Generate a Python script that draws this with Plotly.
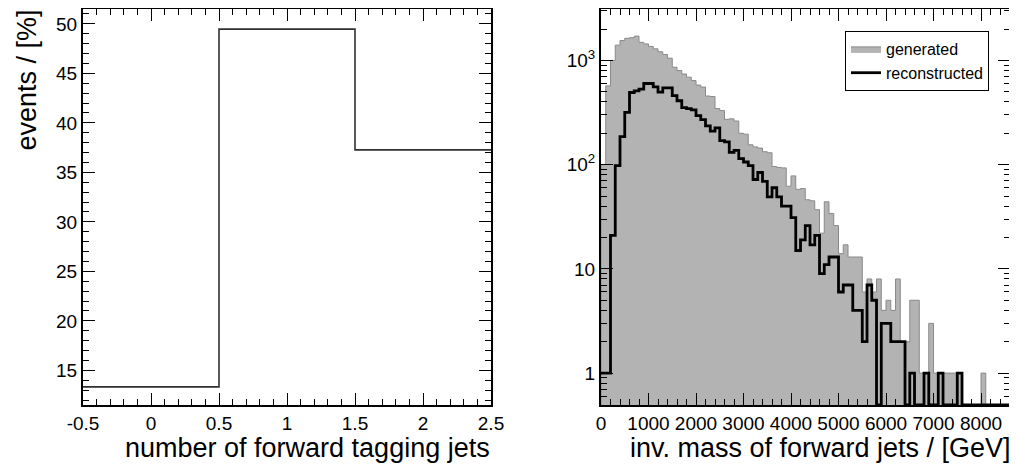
import numpy as np
import plotly.graph_objects as go

# ---------------- data: left panel ----------------
n_fwd_jets = [0, 1, 2]
jet_fraction_pct = [13.33, 49.47, 37.27]
left_xtick_vals = [-0.5, 0, 0.5, 1, 1.5, 2, 2.5]
left_xtick_text = ["-0.5", "0", "0.5", "1", "1.5", "2", "2.5"]
left_ytick_vals = [15, 20, 25, 30, 35, 40, 45, 50]

# ---------------- data: right panel ----------------
mass_bin_width = 100  # GeV
generated = [100, 570, 1000, 1400, 1550, 1630, 1650, 1710, 1490, 1440,
             1360, 1290, 1210, 1140, 1050, 860, 800, 740, 690, 640,
             580, 555, 455, 450, 345, 330, 272, 275, 262, 200,
             196, 155, 148, 144, 133, 130, 96, 94, 93, 62,
             78, 58, 59, 46, 45, 37, 22, 44, 34, 26,
             14, 17, 13, 13, 13, 6, 8, 6, 8, 4,
             5, 4, 8, 2, 2, 5, 5, 1, 1, 3,
             1, 1, 1, 1, 1, 1, 0, 0, 0, 0,
             1, 0, 0, 0, 0, 0]
reconstructed = [1, 1, 21, 98, 186, 317, 492, 511, 530, 600,
                 600, 557, 495, 545, 545, 460, 410, 352, 345, 335,
                 295, 270, 235, 210, 225, 170, 165, 131, 137, 114,
                 106, 98, 72, 84, 69, 49, 60, 49, 40, 40,
                 31, 15, 19, 26, 17, 21, 9, 11, 13, 13,
                 6, 7, 7, 4, 4, 2, 7, 5, 0, 3,
                 3, 2, 2, 2, 0, 1, 0, 0, 1, 0,
                 0, 1, 0, 0, 0, 1, 0, 0, 0, 0,
                 0, 0, 0, 0, 0, 0]
right_xtick_vals = [0, 1000, 2000, 3000, 4000, 5000, 6000, 7000, 8000]
right_ytick_vals = [1, 10, 100, 1000]
right_ytick_text = ["1", "10", "10<sup>2</sup>", "10<sup>3</sup>"]

FONT = "Liberation Sans, Arial, Helvetica, sans-serif"
PAGE_OFF = 8            # page body margin
W, H = 1009, 457        # figure size so that it fits the 1017x465 window
ylog_range = [-0.306, 3.493]
floor_vis = 10 ** ylog_range[0]


def px(xp):
    """page x pixel -> paper fraction"""
    return (xp - PAGE_OFF) / W


def py(yp):
    """page y pixel (from top) -> paper fraction"""
    return 1 - (yp - PAGE_OFF) / H


def step_points(vals, width, floor):
    v = np.maximum(np.asarray(vals, float), floor)
    edges = width * np.arange(len(v) + 1)
    xs, ys = [], []
    for i, val in enumerate(v):
        xs += [edges[i], edges[i + 1]]
        ys += [val, val]
    return np.array(xs), np.array(ys)


fig = go.Figure()

# left histogram
lx = [c - 0.5 for c in n_fwd_jets] + [n_fwd_jets[-1] + 0.5]
ly = list(jet_fraction_pct) + [jet_fraction_pct[-1]]
fig.add_trace(go.Scatter(x=lx, y=ly, mode="lines", line=dict(shape="hv", color="#303030", width=1.6),
                         showlegend=False, xaxis="x", yaxis="y", hoverinfo="skip"))

# generated (filled)
gx, gy = step_points(generated, mass_bin_width, 0.05)
gx = np.concatenate([[gx[0]], gx, [gx[-1]]])
gy = np.concatenate([[0.05], gy, [0.05]])
fig.add_trace(go.Scatter(x=gx, y=gy, mode="lines", fill="toself", fillcolor="#b3b3b3",
                         line=dict(color="#8a8a8a", width=1), name="generated",
                         xaxis="x2", yaxis="y2", hoverinfo="skip"))

# reconstructed (line)
rx, ry = step_points(reconstructed, mass_bin_width, floor_vis)
fig.add_trace(go.Scatter(x=rx, y=ry, mode="lines", line=dict(color="black", width=2.8),
                         name="reconstructed", xaxis="x2", yaxis="y2", hoverinfo="skip"))

common = dict(showgrid=False, zeroline=False, showline=True, linecolor="black", linewidth=2,
              mirror="allticks", ticks="inside", ticklen=12, tickwidth=1, tickcolor="black",
              automargin=False,
              tickfont=dict(family=FONT, size=19, color="black"))

ydom = [py(405), py(9)]

minor_log = [m * 10 ** k for k in range(-1, 4) for m in range(2, 10)
             if ylog_range[0] <= np.log10(m * 10 ** k) <= ylog_range[1]]

fig.update_layout(
    template="none",
    width=W, height=H, margin=dict(l=0, r=0, t=0, b=0, autoexpand=False),
    paper_bgcolor="white", plot_bgcolor="white",
    font=dict(family=FONT, color="black"),
    xaxis=dict(domain=[px(83), px(491)], range=[-0.5, 2.5], tickvals=left_xtick_vals,
               ticktext=left_xtick_text, anchor="y",
               minor=dict(ticks="inside", ticklen=6, dtick=0.1, tick0=-0.5, tickcolor="black", showgrid=False),
               **common),
    yaxis=dict(domain=ydom, range=[11.5, 51.5], tickvals=left_ytick_vals, anchor="x",
               minor=dict(ticks="inside", ticklen=6, dtick=1, tick0=0, tickcolor="black", showgrid=False),
               **common),
    xaxis2=dict(domain=[px(601), px(1010)], range=[0, 8610], tickvals=right_xtick_vals, anchor="y2",
                minor=dict(ticks="inside", ticklen=6, dtick=200, tick0=0, tickcolor="black", showgrid=False),
                **common),
    yaxis2=dict(domain=ydom, type="log", range=ylog_range, tickvals=right_ytick_vals,
                ticktext=right_ytick_text, anchor="x2",
                minor=dict(ticks="inside", ticklen=6, tickvals=minor_log, tickcolor="black", showgrid=False),
                **common),
    legend=dict(x=px(845), y=py(31), xanchor="left", yanchor="top",
                bordercolor="black", borderwidth=1, bgcolor="white",
                entrywidth=112, entrywidthmode="pixels",
                font=dict(family=FONT, size=16, color="black")),
    showlegend=True,
)

ann_font = dict(family=FONT, size=27, color="black")
fig.add_annotation(text="number of forward tagging jets", xref="paper", yref="paper",
                   x=px(492), y=py(465), xanchor="right", yanchor="bottom", showarrow=False, font=ann_font)
fig.add_annotation(text="inv. mass of forward jets / [GeV]", xref="paper", yref="paper",
                   x=px(1013), y=py(465), xanchor="right", yanchor="bottom", showarrow=False, font=ann_font)
fig.add_annotation(text="events / [%]", xref="paper", yref="paper", textangle=-90,
                   x=px(26), y=py(8), xanchor="center", yanchor="top", showarrow=False, font=ann_font)

fig.write_html("out.html")
